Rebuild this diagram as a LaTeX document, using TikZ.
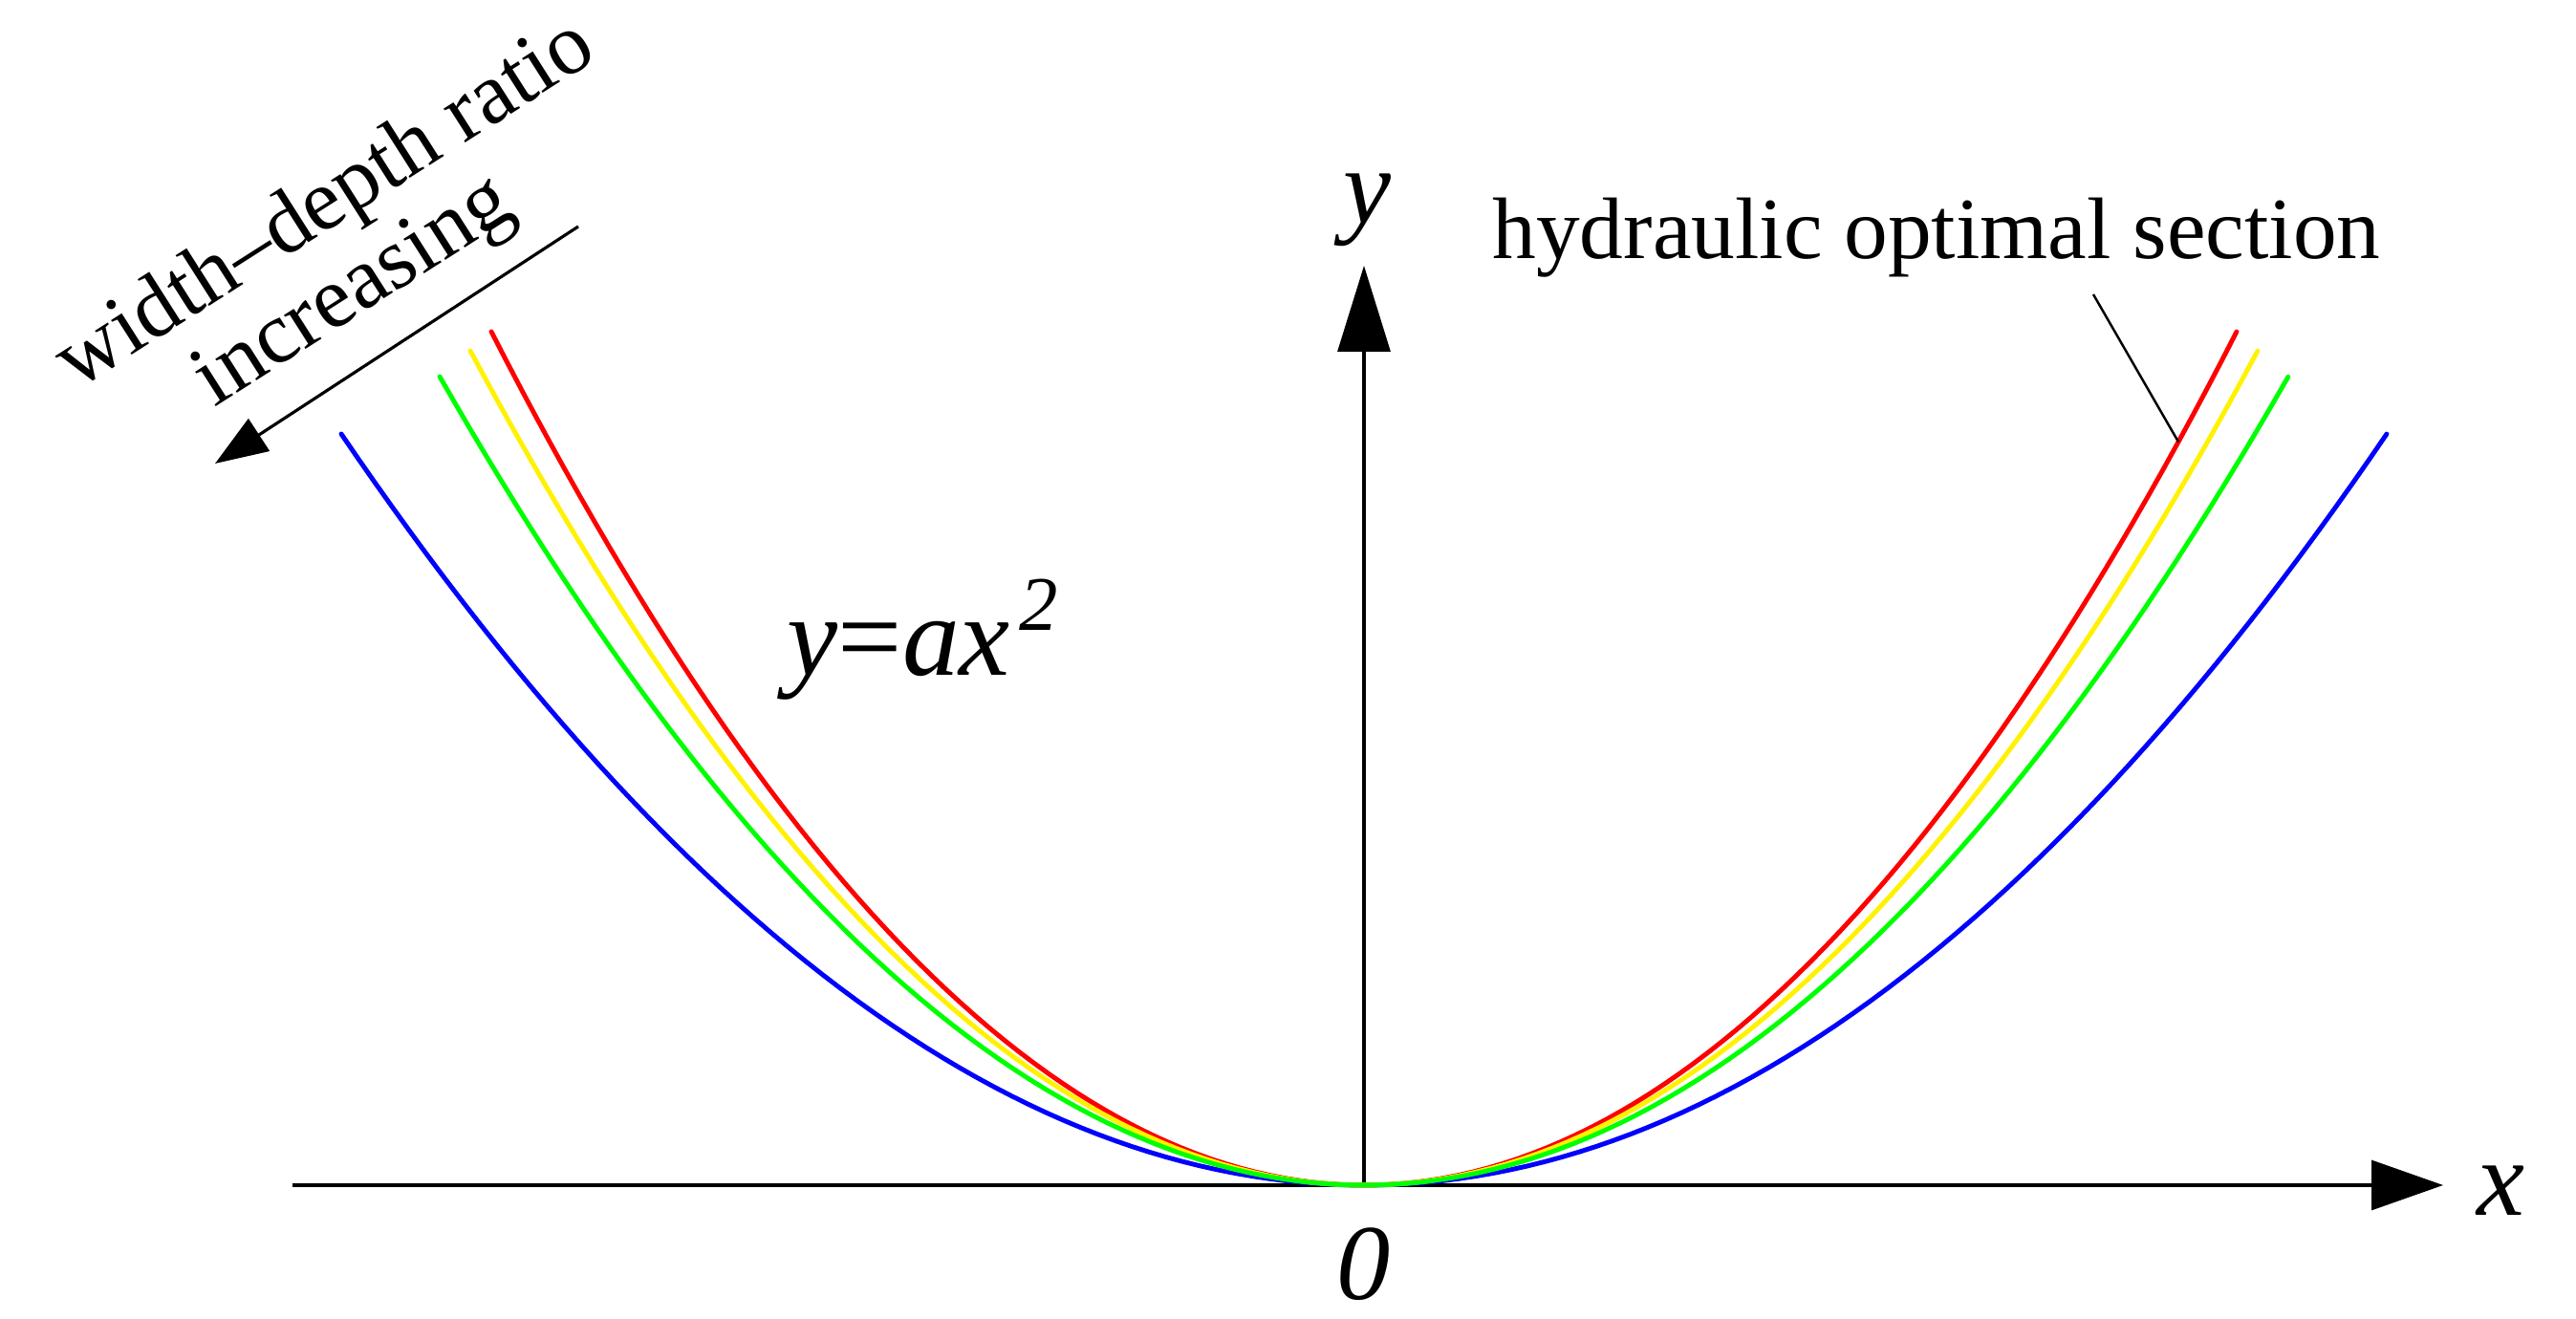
\documentclass[tikz,border=0pt]{standalone}
\usepackage{fontspec}
\setmainfont{Liberation Serif}
\usetikzlibrary{arrows.meta}
\begin{document}
\begin{tikzpicture}[
  axisline/.style={line width=0.9pt, black},
  curveline/.style={line width=1.4pt, line cap=round},
  lbl/.style={inner sep=0pt, font=\fontsize{26}{31}\selectfont},
  mathlbl/.style={inner sep=0pt, font=\fontsize{32}{38}\selectfont\itshape},
]
\useasboundingbox (0,0) rectangle (26.95,13.8);
\coordinate (O) at (14.27,1.40);
\coordinate (xs) at (3.06,1.40);
\coordinate (xe) at (25.56,1.40);
\coordinate (ye) at (14.27,11.02);
% axes
\draw[axisline, -{Triangle[length=0.75cm, width=0.52cm]}] (xs) -- (xe);
\draw[axisline, -{Triangle[length=0.9cm, width=0.55cm]}] (O) -- (ye);
% curves
\draw[curveline, blue] plot[domain=-10.70:10.70, samples=120] ({14.27+\x}, {1.40+7.86*(\x/10.70)^2});
\draw[curveline, red] plot[domain=-9.13:9.13, samples=120] ({14.27+\x}, {1.40+8.93*(\x/9.13)^2});
\draw[curveline, yellow] plot[domain=-9.35:9.35, samples=120] ({14.27+\x}, {1.40+8.73*(\x/9.35)^2});
\draw[curveline, green] plot[domain=-9.67:9.67, samples=120] ({14.27+\x}, {1.40+8.46*(\x/9.67)^2});
% labels
\node[mathlbl] (xl) at (26.16,1.34) {x};
\node[mathlbl] (ol) at (14.27,0.57) {0};
\node[mathlbl, anchor=base] (yl) at (14.30,11.46) {y};
\node[inner sep=0pt, font=\fontsize{34}{40}\selectfont\itshape, anchor=base west] (eq) at (8.23,6.73) {y{\upshape =}ax\kern0.08em\raisebox{0.4em}{\fontsize{23}{23}\selectfont 2}};
% hydraulic optimal section
\node[lbl] (hos) at (20.26,11.31) {hydraulic optimal section};
\coordinate (hs) at (21.90,10.72);
\coordinate (he) at ({14.27+8.52},{1.40+8.93*(8.52/9.13)^2});
\draw[line width=0.7pt] (hs) -- (he);
% width-depth arrow
\coordinate (as) at (6.05,11.43);
\coordinate (ae) at (2.25,8.95);
\draw[line width=0.9pt, -{Triangle[length=0.55cm, width=0.4cm]}] (as) -- (ae);
\node[lbl, rotate=32.5] (wd1) at (3.42,11.64) {width–depth ratio};
\node[lbl, rotate=32.5] (wd2) at (3.72,10.72) {increasing};
\end{tikzpicture}
\end{document}
